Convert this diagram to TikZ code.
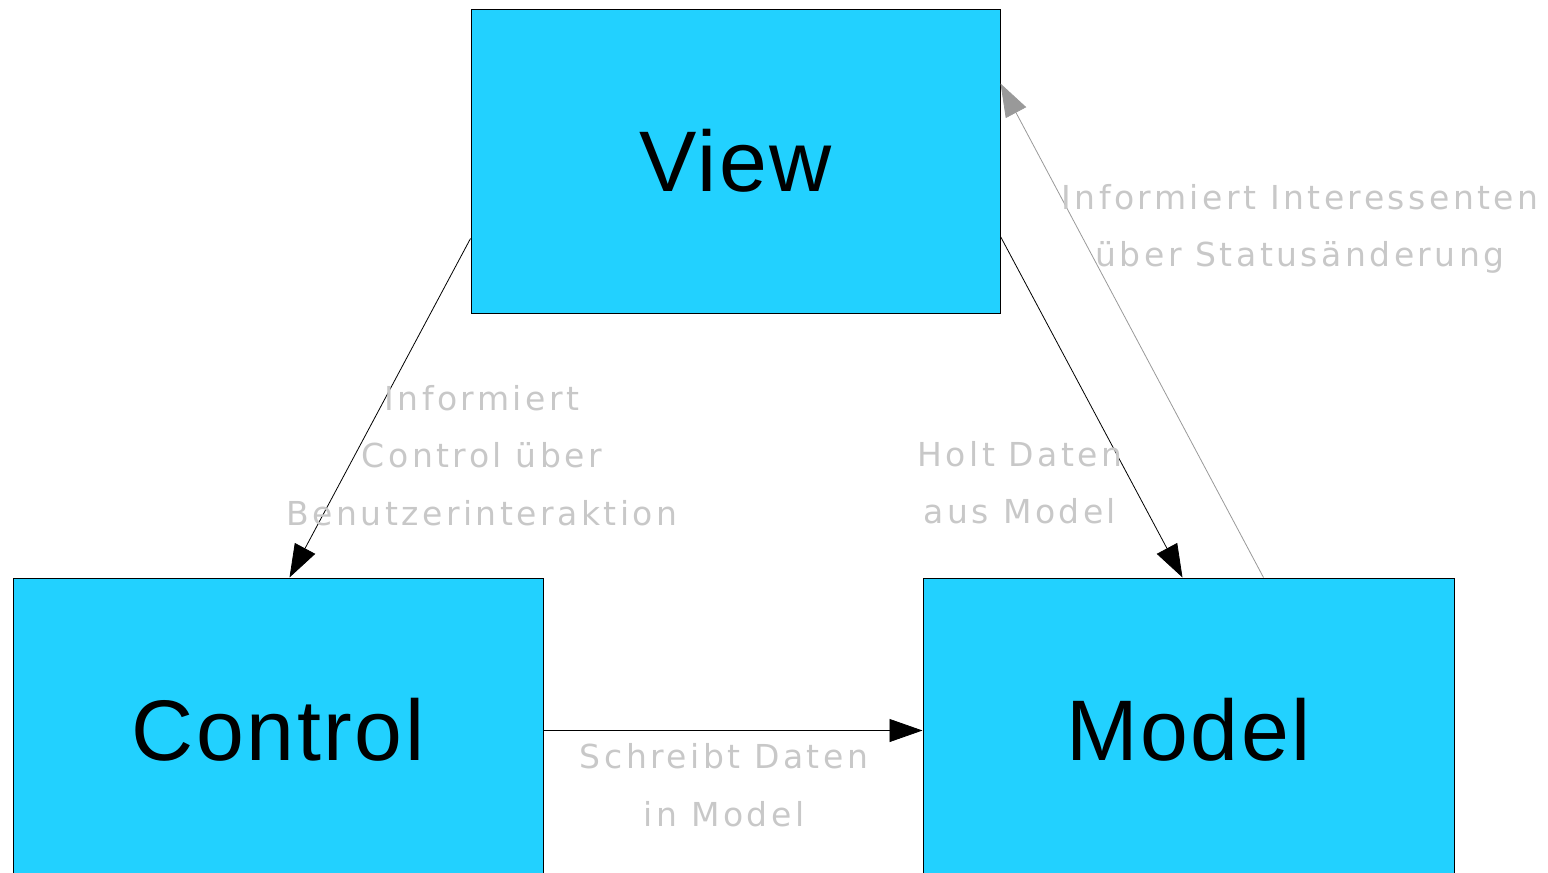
\documentclass[tikz,border=0pt]{standalone}
\usepackage{fontspec}
\setmainfont{DejaVu Sans}
\newfontfamily\boxfont[LetterSpace=3]{Liberation Sans}
\newfontfamily\labelfont[LetterSpace=10.5]{DejaVu Sans}
\usetikzlibrary{arrows.meta}
\definecolor{boxblue}{HTML}{22D1FF}
\definecolor{labelgray}{HTML}{C8C8C8}
\definecolor{linegray}{HTML}{999999}
\tikzset{
  mvcbox/.style={draw=black, line width=1pt, fill=boxblue, minimum width=529pt,
    minimum height=304pt, inner sep=0pt, font=\boxfont\fontsize{86}{100}\selectfont},
  lbl/.style={text=labelgray, align=center, font=\labelfont\fontsize{33}{57.5}\selectfont,
    inner sep=0pt, anchor=base},
  flow/.style={draw=black, line width=0.8pt, -{Triangle[length=33pt,width=23pt]}},
  notify/.style={draw=linegray, line width=0.8pt, -{Triangle[length=33pt,width=23pt]}}
}
\begin{document}
\begin{tikzpicture}[x=1pt,y=-1pt]
\useasboundingbox (0,0) rectangle (1548,873);
\clip (0,0) rectangle (1548,873);
\node[mvcbox] (view) at (735.5,161) {View};
\node[mvcbox, minimum width=530pt] (control) at (278,730) {Control};
\node[mvcbox, minimum width=531pt] (model) at (1188.5,730) {Model};
\draw[flow] ([yshift=75pt]view.south west) -- ([xshift=277pt]control.north west);
\draw[flow] ([yshift=77pt]view.south east) -- ([xshift=260pt]model.north west);
\draw[notify] ([xshift=341pt]model.north west) -- ([yshift=-75pt]view.north east);
\draw[flow] ([yshift=-153pt]control.north east) -- ([yshift=-153pt]model.north west);
\node[lbl] (l1) at (482,525) {Informiert\\Control über\\Benutzerinteraktion};
\node[lbl] (l2) at (1020,523.5) {Holt Daten\\aus Model};
\node[lbl] (l3) at (1300,266.5) {Informiert Interessenten\\über Statusänderung};
\node[lbl] (l4) at (724,826) {Schreibt Daten\\in Model};
\end{tikzpicture}
\end{document}
